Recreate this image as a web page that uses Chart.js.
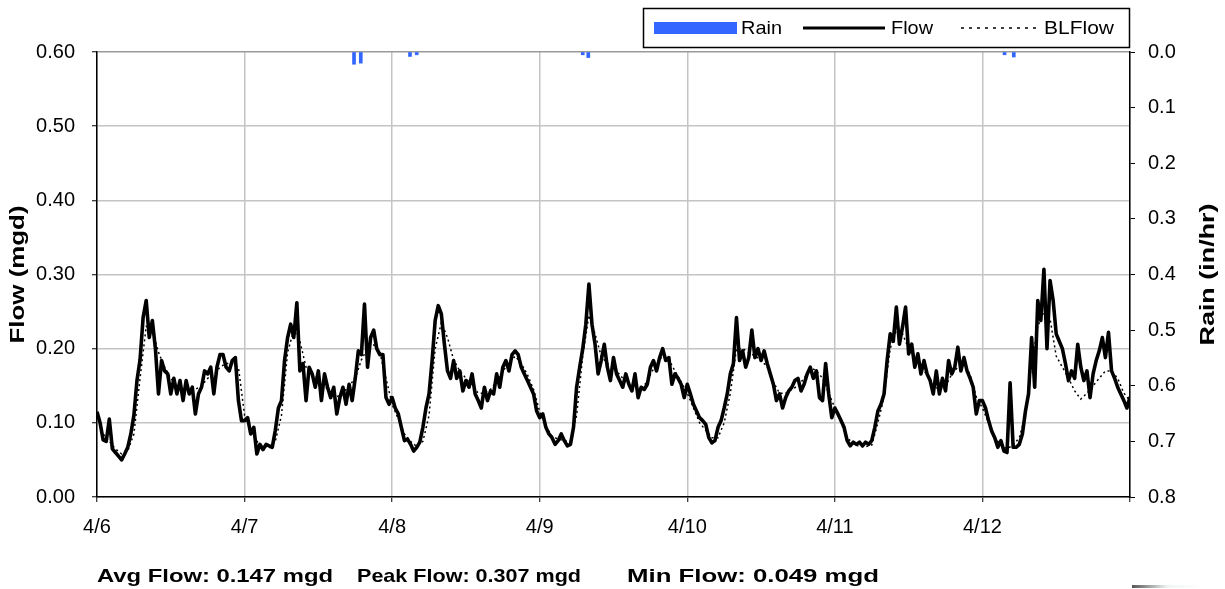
<!DOCTYPE html>
<html><head><meta charset="utf-8">
<script src="https://cdn.jsdelivr.net/npm/chart.js@4.4.1/dist/chart.umd.min.js"></script>
<style>
html,body{margin:0;padding:0;background:#fff;}
#wrap{position:relative;width:1225px;height:589px;overflow:hidden;}
canvas{display:block;}
#smear{position:absolute;left:1132px;top:585px;width:70px;height:3px;background:linear-gradient(to right,#555,rgba(200,220,220,0.3),rgba(255,255,255,0));}
</style></head><body>
<div id="wrap"><canvas id="c" width="1225" height="589"></canvas><div id="smear"></div></div>
<script>
// ---- data ----
const dayLabels = ['4/6','4/7','4/8','4/9','4/10','4/11','4/12'];
const flowStepHours = 0.5;   // half-hourly readings starting 4/6 00:00
const flow = [
 // 4/6
 0.115,0.100,0.077,0.075,0.105,0.065,0.060,0.055,0.050,0.058,0.067,0.085,0.110,0.157,0.185,0.242,0.265,0.215,0.238,0.200,0.139,0.184,0.170,0.166,
 0.139,0.160,0.139,0.157,0.130,0.157,0.139,0.148,0.112,0.139,0.148,0.170,0.166,0.175,0.139,0.175,0.192,0.192,0.175,0.170,0.184,0.188,0.130,0.103,
 // 4/7
 0.103,0.107,0.085,0.094,0.058,0.071,0.064,0.071,0.069,0.067,0.090,0.120,0.130,0.184,0.215,0.233,0.215,0.262,0.170,0.180,0.130,0.175,0.166,0.148,
 0.170,0.130,0.166,0.148,0.134,0.148,0.112,0.134,0.148,0.125,0.152,0.130,0.160,0.197,0.192,0.260,0.175,0.215,0.225,0.200,0.192,0.192,0.134,0.125,
 // 4/8
 0.134,0.120,0.112,0.094,0.076,0.078,0.071,0.062,0.067,0.074,0.094,0.120,0.139,0.184,0.238,0.258,0.247,0.206,0.170,0.160,0.184,0.160,0.170,0.143,
 0.157,0.148,0.166,0.139,0.130,0.120,0.148,0.130,0.143,0.139,0.166,0.148,0.175,0.184,0.170,0.192,0.197,0.192,0.175,0.166,0.157,0.148,0.139,0.116,
 // 4/9
 0.107,0.112,0.094,0.085,0.080,0.071,0.076,0.085,0.076,0.069,0.071,0.094,0.148,0.175,0.200,0.233,0.287,0.233,0.206,0.166,0.184,0.206,0.175,0.157,
 0.188,0.166,0.157,0.148,0.166,0.152,0.143,0.166,0.134,0.148,0.145,0.152,0.175,0.184,0.170,0.188,0.200,0.184,0.188,0.152,0.166,0.160,0.152,0.134,
 // 4/10
 0.152,0.139,0.125,0.116,0.107,0.103,0.098,0.080,0.073,0.076,0.094,0.103,0.120,0.139,0.166,0.180,0.242,0.184,0.197,0.175,0.188,0.225,0.188,0.200,
 0.184,0.197,0.180,0.166,0.152,0.130,0.139,0.120,0.134,0.143,0.148,0.157,0.160,0.143,0.152,0.166,0.175,0.160,0.170,0.134,0.130,0.180,0.139,0.107,
 // 4/11
 0.120,0.112,0.103,0.094,0.076,0.069,0.074,0.071,0.074,0.069,0.074,0.071,0.076,0.094,0.116,0.125,0.139,0.184,0.220,0.210,0.256,0.206,0.229,0.256,
 0.193,0.206,0.175,0.193,0.166,0.184,0.166,0.157,0.139,0.170,0.139,0.160,0.143,0.184,0.166,0.175,0.202,0.170,0.188,0.170,0.160,0.148,0.112,0.130,
 // 4/12
 0.130,0.120,0.103,0.089,0.080,0.067,0.076,0.062,0.060,0.154,0.067,0.067,0.071,0.085,0.116,0.139,0.215,0.148,0.265,0.238,0.307,0.200,0.292,0.265,
 0.220,0.210,0.200,0.180,0.157,0.170,0.160,0.206,0.175,0.157,0.170,0.134,0.166,0.184,0.197,0.215,0.188,0.222,0.170,0.160,0.148,0.139,0.130,0.120,
 0.135
];
const blFlowStepHours = 1;   // hourly baseline
const blFlow = [
 0.110,0.085,0.075,0.065,0.058,0.062,0.085,0.160,0.230,0.225,0.195,0.175,0.160,0.150,0.145,0.148,0.145,0.150,0.160,0.165,0.175,0.180,0.180,0.175,
 0.110,0.090,0.075,0.068,0.066,0.075,0.110,0.195,0.225,0.210,0.175,0.165,0.160,0.150,0.140,0.135,0.140,0.150,0.160,0.185,0.200,0.205,0.195,0.160,
 0.125,0.105,0.085,0.075,0.068,0.075,0.110,0.200,0.235,0.215,0.185,0.170,0.160,0.150,0.140,0.140,0.145,0.155,0.170,0.180,0.190,0.180,0.165,0.145,
 0.115,0.095,0.082,0.078,0.076,0.075,0.110,0.190,0.245,0.220,0.190,0.180,0.175,0.165,0.155,0.150,0.145,0.150,0.165,0.180,0.190,0.185,0.170,0.155,
 0.140,0.120,0.100,0.090,0.080,0.080,0.100,0.140,0.200,0.200,0.195,0.190,0.185,0.175,0.155,0.140,0.140,0.145,0.150,0.160,0.175,0.170,0.160,0.140,
 0.120,0.100,0.080,0.072,0.068,0.068,0.070,0.100,0.135,0.200,0.225,0.220,0.200,0.185,0.175,0.165,0.150,0.145,0.150,0.165,0.175,0.180,0.165,0.135,
 0.120,0.100,0.080,0.070,0.065,0.070,0.080,0.110,0.180,0.230,0.250,0.240,0.190,0.175,0.160,0.143,0.132,0.140,0.150,0.160,0.170,0.170,0.160,0.140,
 0.130
];
const rainHours  = [41.8, 42.9, 50.9, 52.0, 79.0, 79.9, 147.6, 149.1];
const rainValues = [0.022, 0.020, 0.008, 0.005, 0.005, 0.010, 0.005, 0.009];
const flowTickValues = [0, 0.1, 0.2, 0.3, 0.4, 0.5, 0.6];
const statsText = ['Avg Flow: 0.147 mgd', 'Peak Flow: 0.307 mgd', 'Min Flow: 0.049 mgd'];

// ---- build ----
const FONT = '"Liberation Sans", Arial, sans-serif';
const flowPts = flow.map((v, i) => ({x: i * flowStepHours, y: v}));
const blPts = blFlow.map((v, i) => ({x: i * blFlowStepHours, y: v}));
const rainPts = rainHours.map((h, i) => ({x: h, y: rainValues[i]}));
const totalHours = dayLabels.length * 24;

const overlay = {
  id: 'overlay',
  beforeDraw(chart) {
    const ctx = chart.ctx;
    ctx.save(); ctx.fillStyle = '#fff'; ctx.fillRect(0, 0, chart.width, chart.height); ctx.restore();
  },
  afterDraw(chart) {
    const ctx = chart.ctx;
    const ca = chart.chartArea;
    const midY = (ca.top + ca.bottom) / 2;
    ctx.save();
    ctx.fillStyle = '#000';
    ctx.textBaseline = 'middle';
    ctx.textAlign = 'left';
    // draws text stretched along its own direction to a target length
    const stretchText = (txt, font, target) => {
      ctx.font = font;
      const w = ctx.measureText(txt).width;
      const k = target / w;
      ctx.save(); ctx.scale(k, 1); ctx.fillText(txt, 0, 0); ctx.restore();
    };
    // axis titles
    [['Flow (mgd)', 18, 138], ['Rain (in/hr)', 1208, 142]].forEach(([t, x, len]) => {
      ctx.save();
      ctx.translate(x, midY + len / 2); ctx.rotate(-Math.PI / 2);
      stretchText(t, 'bold 20px ' + FONT, len);
      ctx.restore();
    });
    // legend
    ctx.strokeStyle = '#000'; ctx.lineWidth = 1.5;
    ctx.strokeRect(643.5, 8.5, 486, 39);
    ctx.fillStyle = '#3366FF';
    ctx.fillRect(654, 22, 83, 12);
    ctx.fillStyle = '#000';
    [['Rain', 741, 41], ['Flow', 891, 42], ['BLFlow', 1044, 70]].forEach(([t, x, len]) => {
      ctx.save(); ctx.translate(x, 29); stretchText(t, '19px ' + FONT, len); ctx.restore();
    });
    ctx.beginPath(); ctx.lineWidth = 3; ctx.moveTo(803, 28); ctx.lineTo(885, 28); ctx.stroke();
    ctx.beginPath(); ctx.lineWidth = 1.5; ctx.setLineDash([3, 5]); ctx.moveTo(961, 28); ctx.lineTo(1037, 28); ctx.stroke();
    ctx.setLineDash([]);
    // stats
    const sx = [97, 357, 627], sw = [236, 224, 252];
    statsText.forEach((t, i) => {
      ctx.save(); ctx.translate(sx[i], 577); stretchText(t, 'bold 19px ' + FONT, sw[i]); ctx.restore();
    });
    ctx.restore();
  }
};

new Chart(document.getElementById('c'), {
  type: 'line',
  data: {
    datasets: [
      { label: 'Rain', type: 'bar', data: rainPts, yAxisID: 'y2', xAxisID: 'x',
        backgroundColor: '#3366FF', borderWidth: 0, barThickness: 3, order: 0 },
      { label: 'Flow', data: flowPts, yAxisID: 'y', borderColor: '#000', borderWidth: 3.6,
        borderJoinStyle: 'round', pointRadius: 0, tension: 0, fill: false, order: 1 },
      { label: 'BLFlow', data: blPts, yAxisID: 'y', borderColor: '#000', borderWidth: 1.5,
        borderDash: [2, 3], pointRadius: 0, tension: 0, fill: false, order: 2 }
    ]
  },
  options: {
    responsive: false, animation: false, devicePixelRatio: 1,
    layout: { padding: { top: 52, left: 0, right: 0, bottom: 0 } },
    plugins: { legend: { display: false }, tooltip: { enabled: false } },
    scales: {
      x: {
        type: 'linear', min: 0, max: totalHours, offset: false,
        afterFit: s => { s.height = 92; },
        ticks: { stepSize: 24, autoSkip: false, maxRotation: 0, color: '#000', padding: 13,
          font: { family: FONT, size: 20 },
          callback: v => dayLabels[v / 24] !== undefined ? dayLabels[v / 24] : '' },
        afterBuildTicks: s => { s.ticks = dayLabels.map((d, i) => ({value: i * 24})).concat([{value: totalHours}]); },
        grid: { offset: false, color: '#c4c4c4', lineWidth: 1.5, tickLength: 5, tickColor: '#000', tickWidth: 1 },
        border: { color: '#000', width: 1.5 }
      },
      y: {
        position: 'left', min: 0, max: 0.6,
        afterFit: s => { s.width = 97; },
        afterBuildTicks: s => { s.ticks = flowTickValues.map(v => ({value: v})); },
        ticks: { color: '#000', padding: 17, font: { family: FONT, size: 20 },
          callback: v => Number(v).toFixed(2) },
        grid: { color: c => (c.tick && Math.abs(c.tick.value - 0.6) < 1e-9) ? '#9a9a9a' : '#c4c4c4',
          lineWidth: 1.5, tickLength: 5, tickColor: '#000', tickWidth: 1 },
        border: { color: '#000', width: 1.5 }
      },
      y2: {
        position: 'right', min: 0, max: 0.8, reverse: true,
        afterFit: s => { s.width = 95; },
        ticks: { stepSize: 0.1, color: '#000', padding: 13, font: { family: FONT, size: 20 },
          callback: v => Number(v).toFixed(1) },
        grid: { drawOnChartArea: false, tickLength: 5, tickColor: '#000', tickWidth: 1 },
        border: { color: '#000', width: 1.5 }
      }
    }
  },
  plugins: [overlay]
});
</script>
</body></html>
